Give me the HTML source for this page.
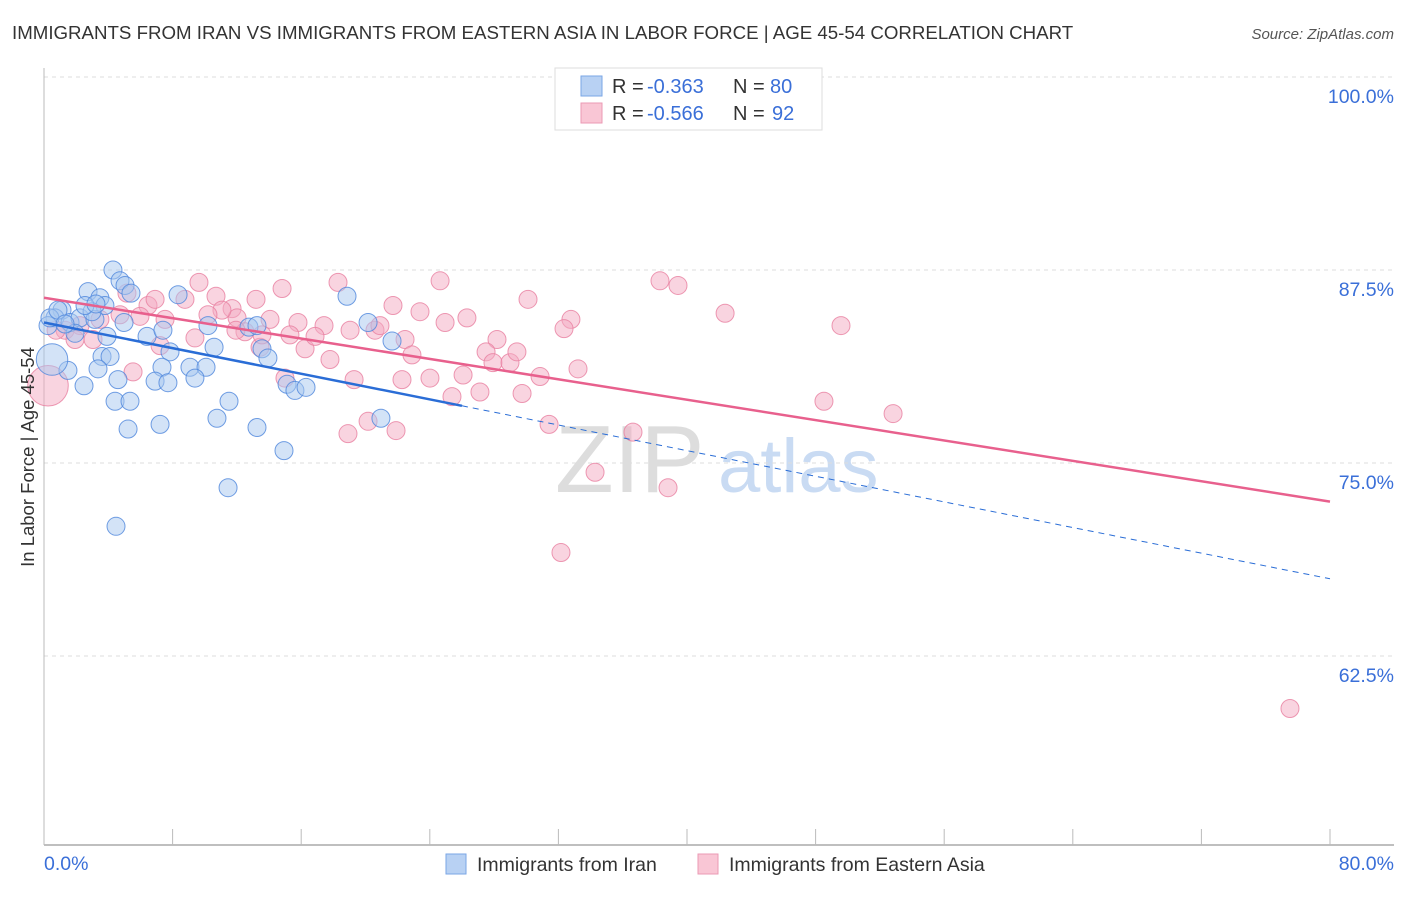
<!DOCTYPE html>
<html><head><meta charset="utf-8"><style>
body{margin:0;background:#fff;font-family:"Liberation Sans",sans-serif;}
svg text{font-family:"Liberation Sans",sans-serif;}
</style></head><body>
<svg id="chart" width="1406" height="892" xmlns="http://www.w3.org/2000/svg">
<text x="12" y="39" font-size="18.7" fill="#333">IMMIGRANTS FROM IRAN VS IMMIGRANTS FROM EASTERN ASIA IN LABOR FORCE | AGE 45-54 CORRELATION CHART</text>
<text x="1394" y="39" font-size="15" fill="#555" font-style="italic" text-anchor="end">Source: ZipAtlas.com</text>
<text x="555" y="492" font-size="96" fill="#ddd" font-family="Liberation Serif">ZIP</text>
<text x="718" y="492" font-size="76" fill="#c9dbf3">atlas</text>
<g id="grid"></g><g id="pts"></g><g id="lines"></g>
<text transform="translate(34,457) rotate(-90)" font-size="18.5" fill="#333" text-anchor="middle">In Labor Force | Age 45-54</text>
<text x="44" y="870" font-size="19.5" fill="#3a6fd8">0.0%</text>
<text x="1394" y="870" font-size="19.5" fill="#3a6fd8" text-anchor="end">80.0%</text>
<g>
<rect x="446" y="854" width="20" height="20" fill="#b8d1f3" stroke="#7aa6e6"/>
<text x="477" y="871" font-size="19.5" fill="#333">Immigrants from Iran</text>
<rect x="698" y="854" width="20" height="20" fill="#f9c6d5" stroke="#eb9ab4"/>
<text x="729" y="871" font-size="19.5" fill="#333">Immigrants from Eastern Asia</text>
</g>
<g>
<rect x="555" y="68" width="267" height="62" fill="#fff" stroke="#ddd"/>
<rect x="581" y="76" width="21" height="20" fill="#b8d1f3" stroke="#7aa6e6"/>
<rect x="581" y="103" width="21" height="20" fill="#f9c6d5" stroke="#eb9ab4"/>
<text x="612" y="93" font-size="20" fill="#333">R =</text>
<text x="647" y="93" font-size="20" fill="#3a6fd8">-0.363</text>
<text x="733" y="93" font-size="20" fill="#333">N =</text>
<text x="770" y="93" font-size="20" fill="#3a6fd8">80</text>
<text x="612" y="120" font-size="20" fill="#333">R =</text>
<text x="647" y="120" font-size="20" fill="#3a6fd8">-0.566</text>
<text x="733" y="120" font-size="20" fill="#333">N =</text>
<text x="772" y="120" font-size="20" fill="#3a6fd8">92</text>
</g>
</svg>
<script>
const yTicks=[100,87.5,75,62.5];
const yTickLabels=["100.0%","87.5%","75.0%","62.5%"];
const xTicks=[0,8,16,24,32,40,48,56,64,72,80];
const blueX=[4.29,4.73,5.04,5.41,2.74,3.48,1.12,0.68,0.25,1.62,2.24,3.17,3.79,2.99,4.98,1.93,3.92,6.41,7.40,10.20,12.75,13.25,8.34,18.85,20.16,21.65,7.84,10.58,13.56,13.93,3.61,4.11,3.36,1.49,2.49,7.34,9.08,10.08,4.60,6.91,7.71,9.39,15.12,15.61,16.30,4.42,5.35,11.51,10.76,7.22,5.23,13.25,20.96,14.93,11.45,4.48,0.37,0.87,1.31,2.55,3.23,0.5];
const blueY=[87.5,86.8,86.5,86.0,86.1,85.7,84.9,84.4,83.9,84.1,84.4,84.3,85.2,84.8,84.1,83.4,83.2,83.2,83.6,83.9,83.8,83.9,85.9,85.8,84.1,82.9,82.2,82.5,82.4,81.8,81.9,81.9,81.1,81.0,80.0,81.2,81.2,81.2,80.4,80.3,80.2,80.5,80.1,79.7,79.9,79.0,79.0,79.0,77.9,77.5,77.2,77.3,77.9,75.8,73.4,70.9,84.4,84.9,84.0,85.2,85.3,81.7];
const blueW=[1,1,1,1,1,1,1,1,1,1,1,1,1,1,1,1,1,1,1,1,1,1,1,1,1,1,1,1,1,1,1,1,1,1,1,1,1,1,1,1,1,1,1,1,1,1,1,1,1,1,1,1,1,1,1,1,1,1,1,1,1,3.5];
const pinkX=[5.16,6.47,6.91,8.77,9.64,10.70,11.70,13.19,14.81,18.29,24.64,30.11,38.32,39.44,21.71,23.39,26.31,32.78,32.35,24.95,42.37,49.58,17.42,15.80,14.06,12.01,11.07,10.20,7.53,5.97,4.73,3.48,2.24,1.31,3.05,9.39,12.50,15.30,16.24,17.79,13.44,13.56,16.86,19.04,20.59,20.90,22.46,22.89,28.18,27.50,27.93,28.99,29.42,26.07,24.01,30.86,33.22,29.74,25.38,27.12,19.29,22.27,14.99,5.54,7.22,11.94,48.52,52.82,31.42,36.64,20.16,21.90,18.91,34.28,38.82,32.16,77.51,1.93,0.75,0.25];
const pinkY=[86.0,85.2,85.6,85.6,86.7,85.8,85.0,85.6,86.3,86.7,86.8,85.6,86.8,86.5,85.2,84.8,84.4,84.3,83.7,84.1,84.7,83.9,83.9,84.1,84.3,84.4,84.9,84.6,84.3,84.5,84.6,84.3,83.9,83.6,83.0,83.1,83.5,83.3,82.4,81.7,82.5,83.3,83.2,83.6,83.6,83.9,83.0,82.0,83.0,82.2,81.5,81.5,82.2,80.7,80.5,80.6,81.1,79.5,79.3,79.6,80.4,80.4,80.5,80.9,82.6,83.6,79.0,78.2,77.5,77.0,77.7,77.1,76.9,74.4,73.4,69.2,59.1,83.0,83.6,80.0];
const pinkW=[1,1,1,1,1,1,1,1,1,1,1,1,1,1,1,1,1,1,1,1,1,1,1,1,1,1,1,1,1,1,1,1,1,1,1,1,1,1,1,1,1,1,1,1,1,1,1,1,1,1,1,1,1,1,1,1,1,1,1,1,1,1,1,1,1,1,1,1,1,1,1,1,1,1,1,1,1,1,1,4.5];
const blueTrend=[84.1,-0.2075];
const pinkTrend=[85.7,-0.165];
const blueSolidEnd=26;
const NS="http://www.w3.org/2000/svg";
const xs=v=>44+v/80*1286;
const ys=v=>77+(100-v)*15.44;
function mk(t,a,p){const e=document.createElementNS(NS,t);for(const k in a)e.setAttribute(k,a[k]);p.appendChild(e);return e;}
const grid=document.getElementById('grid');
yTicks.forEach((t,i)=>{
  const l=mk('line',{x1:44,x2:1394,y1:ys(t),y2:ys(t),stroke:'#ddd','stroke-dasharray':'4,4'},grid);
  
  
  const tx=mk('text',{x:1394,y:ys(t)+26,'font-size':19.5,fill:'#3a6fd8','text-anchor':'end'},grid);
  tx.textContent=yTickLabels[i];
  
  
});
const ya=mk('line',{x1:44,x2:44,y1:68,y2:845,stroke:'#bbb'},grid);


const xa=mk('line',{x1:44,x2:1394,y1:845,y2:845,stroke:'#aaa','stroke-width':1.5},grid);


xTicks.forEach(t=>{
  const l=mk('line',{x1:xs(t),x2:xs(t),y1:829,y2:845,stroke:'#bbb'},grid);
  
  
});
const pts=document.getElementById('pts');
function draw(X,Y,W,fill,stroke,name){
  X.forEach((x,i)=>{
    const c=mk('circle',{cx:xs(x),cy:ys(Y[i]),r:9*(W[i]>1?W[i]*0.5:1),fill:fill,'fill-opacity':0.5,stroke:stroke,'stroke-opacity':0.8,'stroke-width':1},pts);
    
    
  });
}
draw(pinkX,pinkY,pinkW,'#f4a9c1','#e87fa0','point-eastern-asia');
draw(blueX,blueY,blueW,'#a8c8f0','#4d86dc','point-iran');
const lines=document.getElementById('lines');
const tb=x=>blueTrend[0]+blueTrend[1]*x, tp=x=>pinkTrend[0]+pinkTrend[1]*x;
const b1=mk('line',{x1:xs(0),y1:ys(tb(0)),x2:xs(blueSolidEnd),y2:ys(tb(blueSolidEnd)),stroke:'#2a6dd6','stroke-width':2.5},lines);


const b2=mk('line',{x1:xs(blueSolidEnd),y1:ys(tb(blueSolidEnd)),x2:xs(80),y2:ys(tb(80)),stroke:'#2a6dd6','stroke-width':1,'stroke-dasharray':'6,5'},lines);


const p1=mk('line',{x1:xs(0),y1:ys(tp(0)),x2:xs(80),y2:ys(tp(80)),stroke:'#e8608d','stroke-width':2.5},lines);


</script>
</body></html>
